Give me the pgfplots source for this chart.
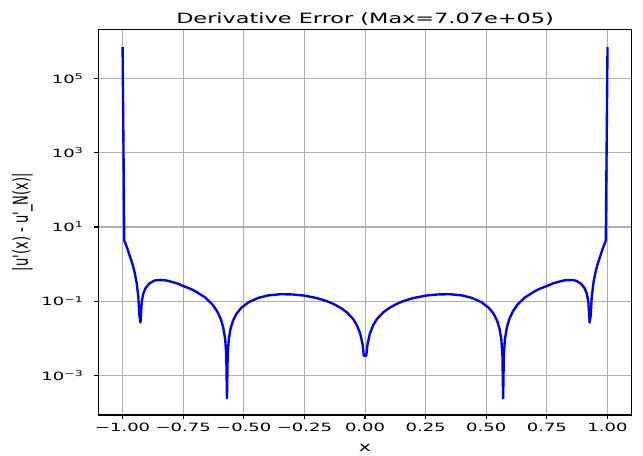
\documentclass[border=0pt]{standalone}
\usepackage{fontspec}
\setmainfont{DejaVu Sans}[FakeStretch=1.58]
\newfontfamily\ylabfont{DejaVu Sans}[Ligatures=TeXOff]
\usepackage{graphicx}
\usepackage{pgfplots}
\pgfplotsset{compat=1.18}
\usetikzlibrary{calc}
\definecolor{gridgray}{HTML}{B0B0B0}

% |u'(x) - u'_N(x)| sampled on [-1,1]
\pgfplotstableread{
x y
-1.0 707000
-0.993 4.3
-0.98 2.597
-0.97 1.621
-0.96 1.039
-0.95 0.590
-0.942 0.3109
-0.935 0.1289
-0.9305 0.0401
-0.9263 0.0266
-0.921 0.0951
-0.915 0.1575
-0.905 0.2266
-0.89 0.298
-0.87 0.3564
-0.86 0.3666
-0.84 0.3708
-0.82 0.3622
-0.8 0.3352
-0.775 0.3013
-0.75 0.2561
-0.72 0.2156
-0.7 0.1851
-0.66 0.1269
-0.63 0.0824
-0.61 0.0536
-0.595 0.0330
-0.585 0.01976
-0.577 0.00947
-0.5725 0.00379
-0.5695 0.00024
-0.5665 0.00370
-0.562 0.00925
-0.555 0.0177
-0.545 0.0294
-0.53 0.0461
-0.51 0.0666
-0.48 0.0938
-0.44 0.1229
-0.4 0.1429
-0.35 0.1539
-0.3 0.1518
-0.25 0.1411
-0.2 0.1214
-0.16 0.1014
-0.13 0.08418
-0.1 0.06555
-0.075 0.04984
-0.05 0.03351
-0.035 0.02351
-0.02 0.01344
-0.01 0.00671
-0.005 0.0034
0.005 0.0034
0.01 0.00671
0.02 0.01344
0.035 0.02351
0.05 0.03351
0.075 0.04984
0.1 0.06555
0.13 0.08418
0.16 0.1014
0.2 0.1214
0.25 0.1411
0.3 0.1518
0.35 0.1539
0.4 0.1429
0.44 0.1229
0.48 0.0938
0.51 0.0666
0.53 0.0461
0.545 0.0294
0.555 0.0177
0.562 0.00925
0.5665 0.00370
0.5695 0.00024
0.5725 0.00379
0.577 0.00947
0.585 0.01976
0.595 0.0330
0.61 0.0536
0.63 0.0824
0.66 0.1269
0.7 0.1851
0.72 0.2156
0.75 0.2561
0.775 0.3013
0.8 0.3352
0.82 0.3622
0.84 0.3708
0.86 0.3666
0.87 0.3564
0.89 0.298
0.905 0.2266
0.915 0.1575
0.921 0.0951
0.9263 0.0266
0.9305 0.0401
0.935 0.1289
0.942 0.3109
0.95 0.590
0.96 1.039
0.97 1.621
0.98 2.597
0.993 4.3
1.0 707000
}\errdata

\begin{document}
\begin{tikzpicture}
\begin{axis}[
  name=ax,
  scale only axis,
  width=384pt, height=277.7pt,
  xmin=-1.1, xmax=1.1,
  ymode=log, ymin=8.5e-5, ymax=2.14e6,
  xtick={-1,-0.75,-0.5,-0.25,0,0.25,0.5,0.75,1},
  xticklabels={−1.00,−0.75,−0.50,−0.25,0.00,0.25,0.50,0.75,1.00},
  ytick={1e-3,1e-1,1e1,1e3,1e5},
  yticklabels={10\textsuperscript{−3},10\textsuperscript{−1},10\textsuperscript{1},10\textsuperscript{3},10\textsuperscript{5}},
  yminorticks=false,
  tick align=outside, tick pos=left,
  major tick length=3.1pt,
  grid=major,
  grid style={gridgray, line width=0.75pt},
  axis line style={line width=0.8pt},
  tick style={black, line width=0.8pt},
  ticklabel style={font=\fontsize{8.2}{9}\selectfont},
  xticklabel style={anchor=base, yshift=-9pt},
  yticklabel style={anchor=east, xshift=-4pt},
  title={Derivative Error (Max=7.07e+05)},
  title style={at={(axis description cs:0.5,1)}, anchor=base, yshift=-2pt, font=\fontsize{10.2}{12}\selectfont},
  xlabel={x},
  xlabel style={at={(axis description cs:0.5,0)}, anchor=base, yshift=-26.6pt, font=\fontsize{9.4}{11}\selectfont},
  ylabel={\scalebox{1}[1.58]{\ylabfont\fontsize{9.4}{11}\selectfont |u'(x) - u'\_N(x)|}},
  ylabel style={at={(axis description cs:-0.1422,0.5)}, anchor=center},
]
\addplot[color=blue, line width=1.7pt, line join=round, mark=none] table[x=x, y=y] {\errdata};
\end{axis}
\pgfresetboundingbox
\path[use as bounding box] ($(ax.south west)+(-70.8pt,-28.8pt)$) rectangle ($(ax.north east)+(8.1pt,21.1pt)$);
\end{tikzpicture}
\end{document}
